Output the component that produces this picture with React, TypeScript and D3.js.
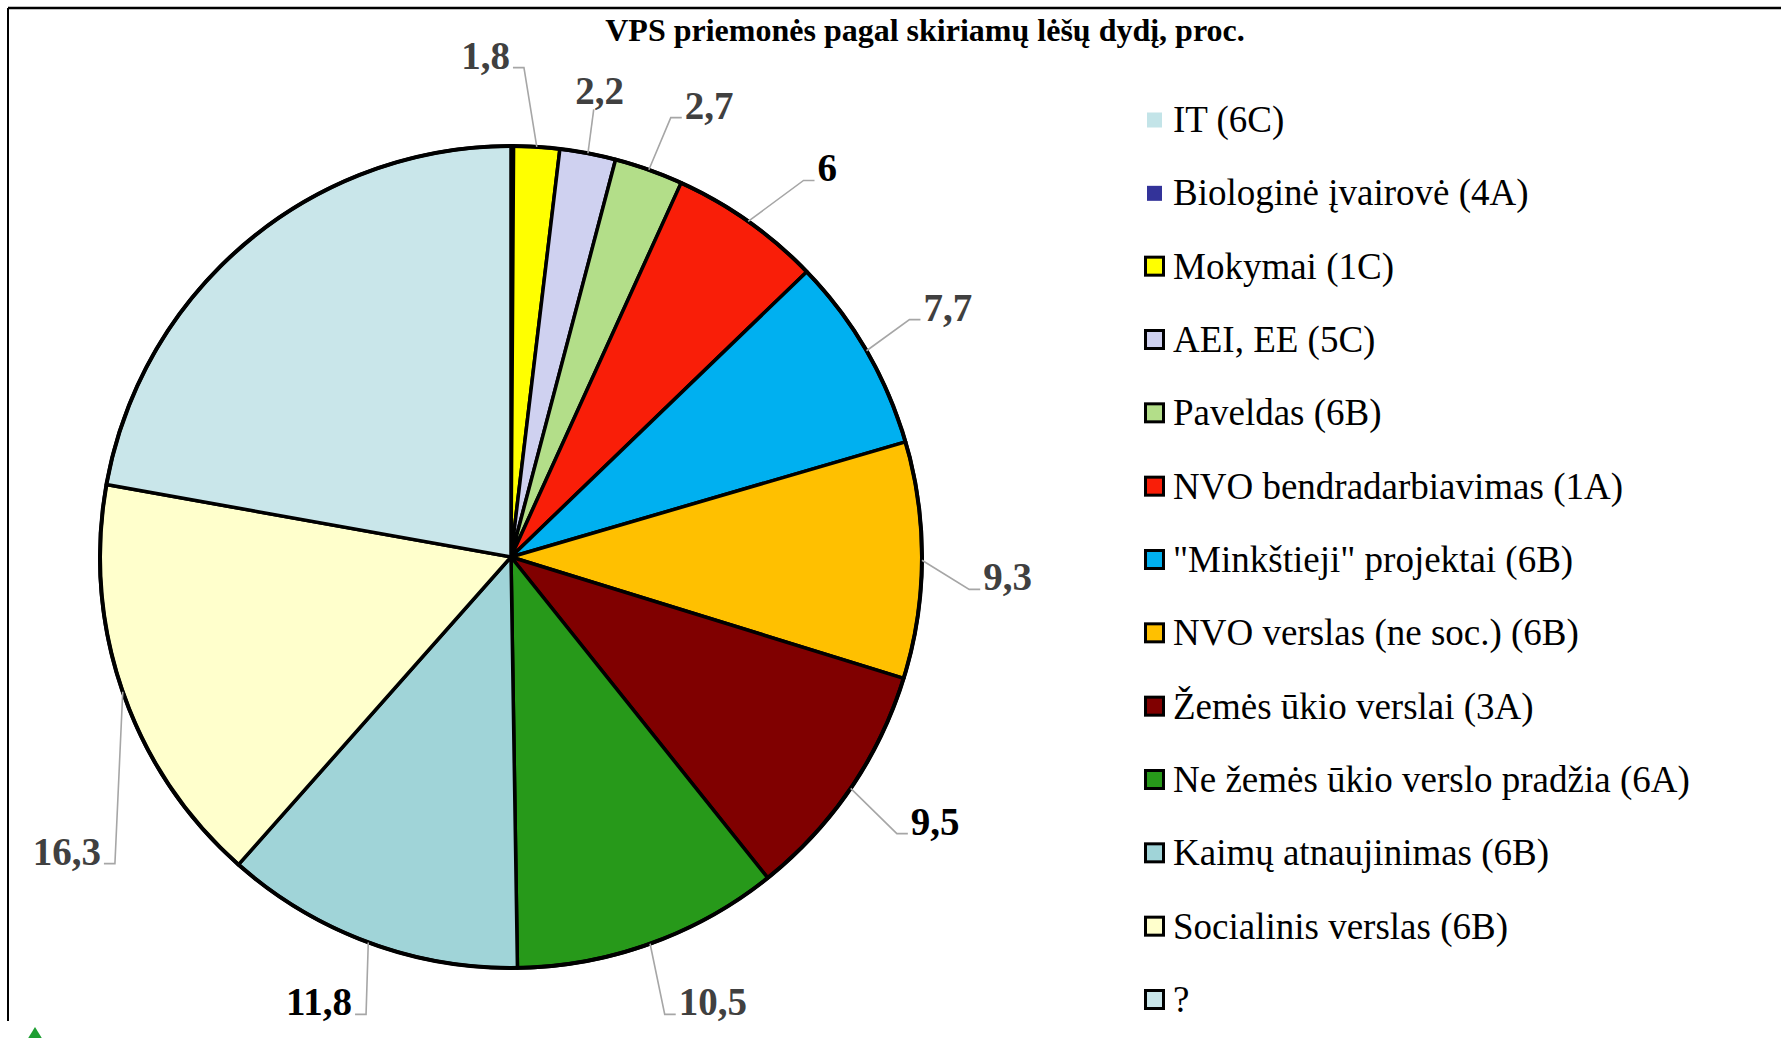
import React from 'react';
import * as d3 from 'd3';

// categories in legend / slice order (clockwise from 12 o'clock)
const categories = [
  'IT (6C)',
  'Biologinė įvairovė (4A)',
  'Mokymai (1C)',
  'AEI, EE (5C)',
  'Paveldas (6B)',
  'NVO bendradarbiavimas (1A)',
  '"Minkštieji" projektai (6B)',
  'NVO verslas (ne soc.) (6B)',
  'Žemės ūkio verslai (3A)',
  'Ne žemės ūkio verslo pradžia (6A)',
  'Kaimų atnaujinimas (6B)',
  'Socialinis verslas (6B)',
  '?',
];
const values = [0.1, 0, 1.8, 2.2, 2.7, 6, 7.7, 9.3, 9.5, 10.5, 11.8, 16.3, 22.2];
const labelled = [false, false, true, true, true, true, true, true, true, true, true, true, false];

const title = 'VPS priemonės pagal skiriamų lėšų dydį, proc.';

// styles
const colors = ['#C3E4E8', '#333399', '#FFFF00', '#CFD1F0', '#B3DE89', '#F91E08', '#00B0F0',
  '#FFC000', '#800000', '#27991A', '#A0D4D8', '#FFFFCC', '#C9E6EA'];
const bordered = [false, false, true, true, true, true, true, true, true, true, true, true, true];
const labelColors = ['#404040', '#404040', '#404040', '#404040', '#404040', '#000', '#404040',
  '#404040', '#000', '#404040', '#000', '#404040', '#404040'];
// label placement nudges (degrees off the slice middle, distance from centre)
const labelShift = [0, 0, -6.5, 0, 4.1, 3.9, 0.4, 1.9, -2.3, -4.6, 3.0, -14.4, 0];
const labelDist = [0, 0, 502, 474, 493, 501, 503, 497, 500, 489, 485, 533, 0];

const W = 1781, H = 1038;
const cx = 511, cy = 557, R = 411;
const serif = '"Liberation Serif", "Times New Roman", serif';
const labelFont = 39;

let ctx: CanvasRenderingContext2D | null = null;
const measure = (txt: string, font: string) => {
  if (!ctx) ctx = document.createElement('canvas').getContext('2d');
  ctx!.font = font;
  return ctx!.measureText(txt).width;
};

const polar = (r: number, a: number): [number, number] => [cx + r * Math.sin(a), cy - r * Math.cos(a)];

export default function App() {
  const arcs = d3.pie<number>().sort(null).value(d => d)(values);
  const arc = d3.arc<d3.PieArcDatum<number>>().innerRadius(0).outerRadius(R);
  const fmt = (v: number) => String(v).replace('.', ',');

  const legendY = d3.scalePoint<number>().domain(d3.range(categories.length)).range([120, 1000]);

  const labelEls = arcs.map((a, i) => {
    if (!labelled[i]) return null;
    const mid = (a.startAngle + a.endAngle) / 2;
    const [ex, ey] = polar(R, mid);
    const [lx, lyc] = polar(labelDist[i], mid + (labelShift[i] * Math.PI) / 180);
    const txt = fmt(values[i]);
    const w = measure(txt, `bold ${labelFont}px ${serif}`);
    const base = lyc + 13;
    const left = lx - w / 2, right = lx + w / 2;
    let pts: [number, number][];
    if (ex > right + 5) {
      pts = [[right + 3, base - 1], [right + 14, base - 1], [ex, ey]];
    } else if (ex < left - 5) {
      pts = [[left - 3, base - 1], [left - 14, base - 1], [ex, ey]];
    } else {
      pts = [[lx - 6, base + 5], [ex, ey]];
    }
    return (
      <g key={'l' + i}>
        <path d={d3.line()(pts) || ''} fill="none" stroke="#A6A6A6" strokeWidth={1.6} />
        <text x={lx} y={base} textAnchor="middle" fontFamily={serif} fontWeight="bold"
          fontSize={labelFont} fill={labelColors[i]}>{txt}</text>
      </g>
    );
  });

  return (
    <svg width={W} height={H} style={{ position: 'absolute', left: 0, top: 0, background: '#fff' }}>
      {/* frame */}
      <line x1={8} y1={8} x2={W} y2={8} stroke="#000" strokeWidth={2.5} />
      <line x1={8} y1={8} x2={8} y2={1021} stroke="#000" strokeWidth={2} />
      <path d="M35,1027 L27,1040 L43,1040 Z" fill="#1E9E32" />

      <text x={925} y={41} textAnchor="middle" fontFamily={serif} fontWeight="bold" fontSize={32}>{title}</text>

      <g>
        {arcs.map((a, i) => (
          <path key={i} d={arc(a) || ''} transform={`translate(${cx},${cy})`} fill={colors[i]}
            stroke="#000" strokeWidth={3.5} strokeLinejoin="round" />
        ))}
        <circle cx={cx} cy={cy} r={R} fill="none" stroke="#000" strokeWidth={4} />
      </g>

      {labelEls}

      <g>
        {categories.map((c, i) => {
          const y = legendY(i)!;
          return (
            <g key={c}>
              {bordered[i]
                ? <rect x={1145.5} y={y - 9.5} width={18} height={18} fill={colors[i]} stroke="#000" strokeWidth={3} />
                : <rect x={1147} y={y - 7.5} width={15} height={15} fill={colors[i]} />}
              <text x={1173} y={y + 12} fontFamily={serif} fontSize={37} fill="#000">{c}</text>
            </g>
          );
        })}
      </g>
    </svg>
  );
}
